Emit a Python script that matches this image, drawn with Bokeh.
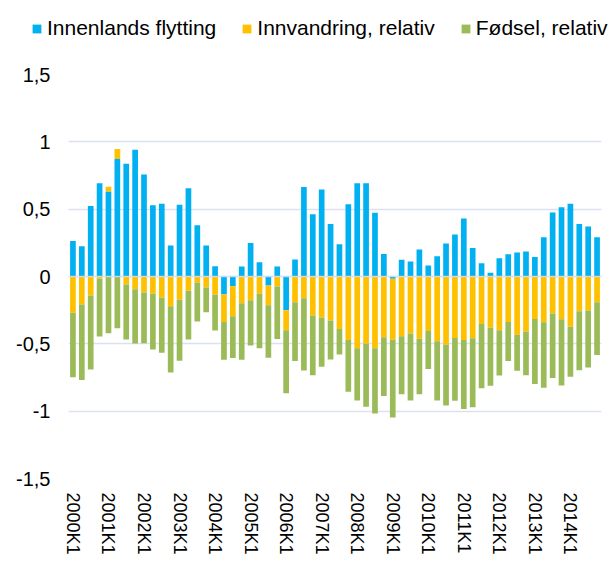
import math
import numpy as np
from bokeh.plotting import figure
from bokeh.layouts import column
from bokeh.models import (Range1d, FixedTicker, CustomJSTickFormatter, Legend,
                          LegendItem, ColumnDataSource, Span)
from bokeh.embed import file_html
from bokeh.resources import INLINE

years = list(range(2000, 2015))
quarters = [f"{y}K{q}" for y in years for q in range(1, 5)]
tick_labels = [f"{y}K1" for y in years]

innenlands = [0.263, 0.225, 0.523, 0.693, 0.632, 0.872, 0.837, 0.941, 0.758, 0.530,
              0.540, 0.230, 0.532, 0.656, 0.381, 0.230, 0.077, -0.131, -0.072, 0.074,
              0.248, 0.106, -0.067, 0.074, -0.250, 0.126, 0.664, 0.463, 0.646, 0.389,
              0.240, 0.537, 0.693, 0.693, 0.473, 0.168, -0.017, 0.124, 0.111, 0.201,
              0.082, 0.151, 0.245, 0.312, 0.431, 0.211, 0.099, 0.027, 0.136, 0.166,
              0.178, 0.186, 0.144, 0.292, 0.475, 0.515, 0.540, 0.389, 0.371, 0.292]
innvandring = [-0.270, -0.208, -0.141, -0.017, 0.035, 0.074, -0.059, -0.094, -0.119, -0.129,
               -0.158, -0.220, -0.173, -0.106, -0.045, -0.082, -0.136, -0.206, -0.223, -0.198,
               -0.176, -0.129, -0.146, -0.074, -0.149, -0.191, -0.161, -0.290, -0.307, -0.327,
               -0.389, -0.471, -0.532, -0.500, -0.532, -0.451, -0.453, -0.443, -0.423, -0.463,
               -0.404, -0.480, -0.505, -0.456, -0.471, -0.458, -0.352, -0.381, -0.399, -0.337,
               -0.433, -0.409, -0.315, -0.339, -0.275, -0.317, -0.374, -0.258, -0.253, -0.191]
fodsel = [-0.478, -0.560, -0.550, -0.428, -0.421, -0.384, -0.409, -0.404, -0.376, -0.414,
          -0.409, -0.493, -0.453, -0.362, -0.290, -0.183, -0.265, -0.282, -0.310, -0.421,
          -0.337, -0.404, -0.391, -0.391, -0.468, -0.436, -0.537, -0.443, -0.364, -0.290,
          -0.191, -0.384, -0.389, -0.468, -0.485, -0.436, -0.577, -0.431, -0.498, -0.411,
          -0.282, -0.441, -0.453, -0.466, -0.513, -0.513, -0.478, -0.431, -0.337, -0.290,
          -0.267, -0.324, -0.483, -0.488, -0.478, -0.493, -0.371, -0.438, -0.423, -0.391]

series_names = ["Innenlands flytting", "Innvandring, relativ", "Fødsel, relativ"]
series_values = [innenlands, innvandring, fodsel]
colors = ["#00B0F0", "#FFC000", "#9BBB59"]

y_ticks = [-1.5, -1.0, -0.5, 0.0, 0.5, 1.0, 1.5]

x = np.arange(len(quarters))

# stacked segments (positives stack upward, negatives downward)
sources = []
pos_base = np.zeros(len(quarters))
neg_base = np.zeros(len(quarters))
for vals in series_values:
    v = np.array(vals)
    bottom = np.where(v >= 0, pos_base, neg_base + v)
    top = np.where(v >= 0, pos_base + v, neg_base)
    pos_base = pos_base + np.where(v >= 0, v, 0)
    neg_base = neg_base + np.where(v < 0, v, 0)
    sources.append(ColumnDataSource(dict(x=x, top=top, bottom=bottom)))

# ---- legend strip (own figure so the legend may extend past the plot frame)
lg = figure(width=610, height=48, output_backend="svg", toolbar_location=None,
            x_axis_type=None, y_axis_type=None,
            x_range=Range1d(-0.5, len(quarters) - 0.5), y_range=Range1d(5, 6),
            min_border_left=0, min_border_right=0, min_border_top=0, min_border_bottom=0)
lg.frame_align = False
lg.outline_line_color = None
lg.xgrid.grid_line_color = None
lg.ygrid.grid_line_color = None
lg_renderers = [lg.vbar(x="x", top="top", bottom="bottom", width=0.64, source=src,
                        fill_color=col, line_color=None)
                for src, col in zip(sources, colors)]
legend = Legend(items=[LegendItem(label=n, renderers=[r]) for n, r in zip(series_names, lg_renderers)],
                orientation="horizontal", location=(31, 8),
                glyph_width=11, glyph_height=11, label_standoff=5, spacing=25,
                padding=0, margin=0, border_line_color=None, background_fill_alpha=0,
                label_text_font="Liberation Sans", label_text_font_size="21px",
                label_text_color="#000000", label_height=11)
lg.add_layout(legend, "center")

# ---- main chart
p = figure(frame_width=533, frame_height=404, output_backend="svg", toolbar_location=None,
           x_range=Range1d(-0.5, len(quarters) - 0.5), y_range=Range1d(-1.5, 1.5),
           min_border_left=68, min_border_right=9, min_border_top=26, min_border_bottom=20)
p.frame_align = False
p.outline_line_color = None
p.background_fill_color = "white"
p.border_fill_color = "white"

for src, col in zip(sources, colors):
    p.vbar(x="x", top="top", bottom="bottom", width=0.64, source=src,
           fill_color=col, line_color=None)

zero = Span(location=0, dimension="width", line_color="#D9E1F2", line_width=1.5,
            line_alpha=0.8, level="overlay")
p.add_layout(zero)

p.yaxis.ticker = FixedTicker(ticks=y_ticks)
p.yaxis.formatter = CustomJSTickFormatter(code="return tick.toString().replace('.', ',');")
p.yaxis.axis_line_color = None
p.yaxis.major_tick_line_color = None
p.yaxis.minor_tick_line_color = None
p.yaxis.major_tick_out = 0
p.yaxis.major_tick_in = 0
p.yaxis.major_label_standoff = 18
p.yaxis.major_label_text_font = "Liberation Sans"
p.yaxis.major_label_text_font_size = "20px"
p.yaxis.major_label_text_color = "#000000"

p.xaxis.ticker = FixedTicker(ticks=list(range(0, len(quarters), 4)))
p.xaxis.major_label_overrides = {i * 4: lab for i, lab in enumerate(tick_labels)}
p.xaxis.major_label_orientation = -math.pi / 2
p.xaxis.axis_line_color = None
p.xaxis.major_tick_line_color = None
p.xaxis.minor_tick_line_color = None
p.xaxis.major_tick_out = 0
p.xaxis.major_tick_in = 0
p.xaxis.major_label_standoff = 14
p.xaxis.major_label_text_font = "Liberation Sans"
p.xaxis.major_label_text_font_size = "18px"
p.xaxis.major_label_text_color = "#000000"

p.xgrid.grid_line_color = None
p.ygrid.ticker = FixedTicker(ticks=y_ticks)
p.ygrid.grid_line_color = "#D9E1F2"
p.ygrid.grid_line_width = 1.5

layout = column(lg, p, spacing=0)
open("out.html", "w").write(file_html(layout, INLINE))
